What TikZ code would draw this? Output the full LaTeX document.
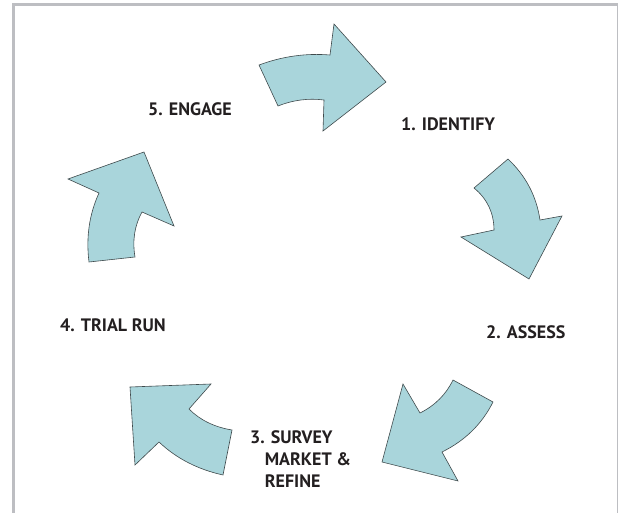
\documentclass[tikz,border=0pt]{standalone}
\usepackage{fontspec}
\setmainfont{PT Sans}
\definecolor{arrowfill}{HTML}{A9D5DB}
\definecolor{arrowline}{HTML}{3F4A4C}
\definecolor{labelgray}{HTML}{231F20}
\definecolor{framegray}{HTML}{BDBEC2}

\begin{document}
\begin{tikzpicture}[x=1pt,y=-1pt,cyclearrow/.style={fill=arrowfill,draw=arrowline,line width=0.6pt},steplabel/.style={font=\bfseries\fontsize{18}{22}\selectfont,text=labelgray,anchor=base west,inner sep=0pt,align=left}]
	\useasboundingbox (0,0) rectangle (619,513);
	% frame
	\draw[framegray,line width=2.5pt] (13.3,513) -- (13.3,4.5) -- (618,4.5);
	\draw[framegray,line width=1pt] (617.8,4.5) -- (617.8,513);
	% the five arrows, clockwise from the top
	\draw[cyclearrow] (324,100) .. controls (308.4,98) and (293,100) .. (278,106) -- (259,65) .. controls (282.2,56.4) and (305.8,53) .. (330,55) -- (334,24) -- (386,82) -- (323,131) -- cycle;
	\draw[cyclearrow] (494,230) .. controls (493.9,212.9) and (487.3,198.9) .. (474,188) -- (508,159) .. controls (525.9,175.9) and (536.5,196.3) .. (540,220) -- (562,216) -- (529,279) -- (461,237) -- cycle;
	\draw[cyclearrow] (420,413) .. controls (435,405.5) and (446,394.5) .. (453,380) -- (493,402) .. controls (482,424) and (465,440.7) .. (442,452) -- (458,481) -- (382,462) -- (403,384) -- cycle;
	\draw[cyclearrow] (189,409) .. controls (200,420.1) and (214.4,427.1) .. (232,430) -- (223,475) .. controls (197.7,469.4) and (176.3,458.4) .. (159,442) -- (135,465) -- (130,387) -- (211,384) -- cycle;
	\draw[cyclearrow] (142,212) .. controls (134.6,225.4) and (132.2,240.4) .. (135,257) -- (89,262) .. controls (85.9,237.2) and (89.3,214.2) .. (99,193) -- (68,179) -- (144,152) -- (174,226) -- cycle;
	% labels
	\node[steplabel] (identify) at (401,131) {1. IDENTIFY};
	\node[steplabel] (assess) at (486,338) {2. ASSESS};
	\node[steplabel] (survey) at (250,487) {3. SURVEY\\\phantom{3.}MARKET \&\\\phantom{3.}REFINE};
	\node[steplabel] (trial) at (60,331) {4. TRIAL RUN};
	\node[steplabel] (engage) at (148,116) {5. ENGAGE};
\end{tikzpicture}
\end{document}
